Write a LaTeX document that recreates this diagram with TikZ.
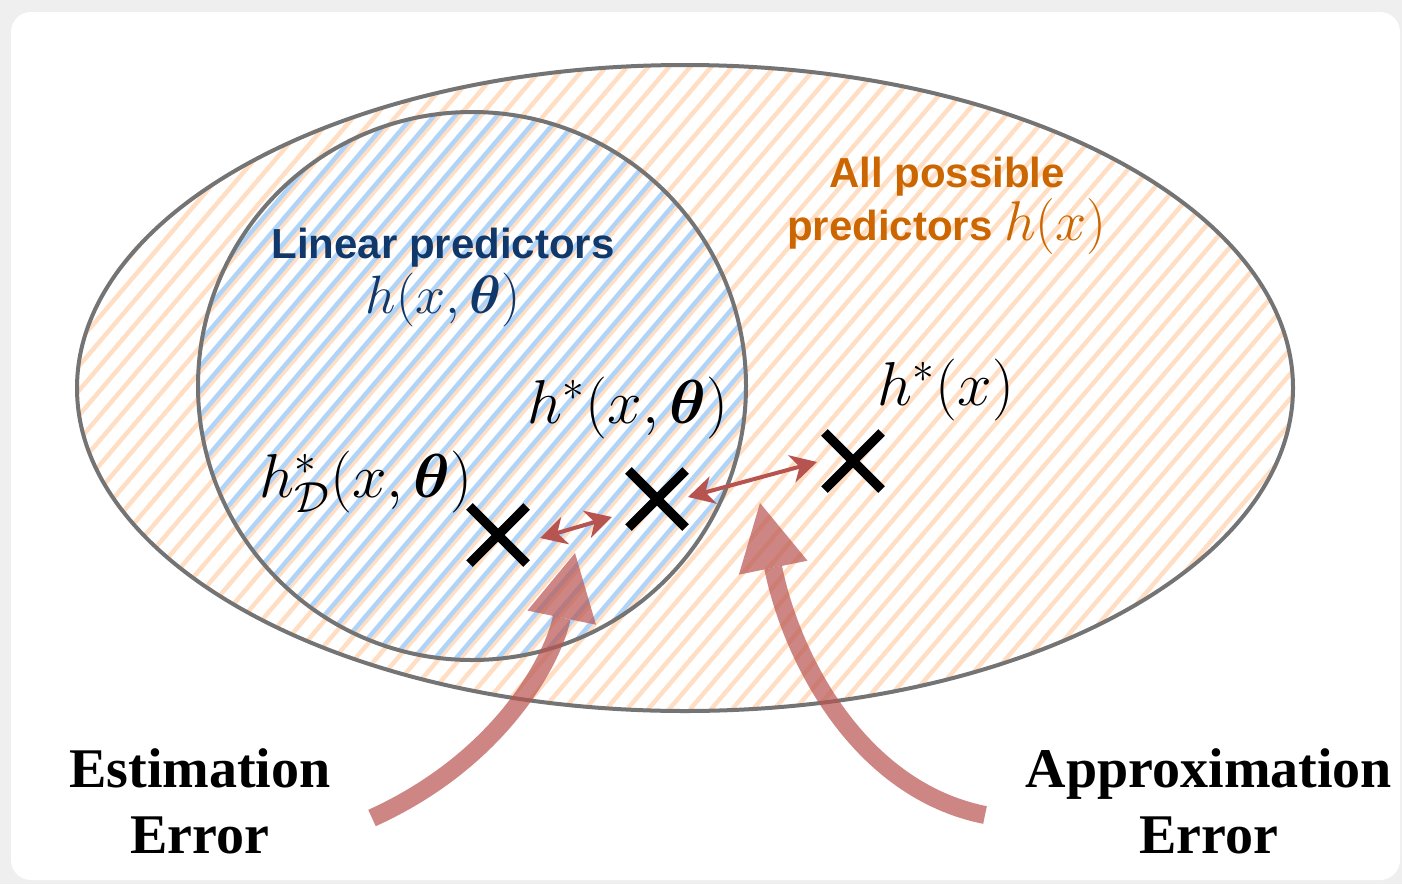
\documentclass[tikz,border=0pt]{standalone}
\usepackage{fix-cm}
\usepackage{amsmath}
\usepackage[no-math]{fontspec}
\setmainfont{Liberation Serif}
\setsansfont{Liberation Sans}
\usepackage{tikz}
\usetikzlibrary{arrows.meta,shapes.misc,calc}
\definecolor{cardgray}{HTML}{EFEFEF}
\definecolor{rimgray}{HTML}{747474}
\definecolor{peach}{HTML}{FFDEC3}
\definecolor{skyblue}{HTML}{B0D4F8}
\definecolor{navy}{HTML}{10386B}
\definecolor{amber}{HTML}{CC6600}
\definecolor{brick}{HTML}{B85450}

\begin{document}
\begin{tikzpicture}[
  x=0.5pt,y=-0.5pt,
  rim/.style={draw=rimgray,line width=2pt},
  hatchO/.style={draw=peach,line width=2.2pt},
  hatchB/.style={draw=skyblue,line width=2.2pt},
  setlbl/.style={anchor=base,inner sep=0pt,font=\sffamily\bfseries\fontsize{21}{25}\selectfont},
  setmath/.style={anchor=base,inner sep=0pt,font=\fontsize{27}{32}\selectfont},
  ptlbl/.style={anchor=base,inner sep=0pt,font=\fontsize{31}{36}\selectfont},
  errlbl/.style={anchor=base,inner sep=0pt,font=\bfseries\fontsize{28}{33}\selectfont},
  xmark/.style={cross out,draw=black,line width=4.6pt,minimum size=24pt,inner sep=0pt},
  gap/.style={{Stealth[length=13pt,width=14pt,inset=4pt]}-{Stealth[length=13pt,width=14pt,inset=4pt]},draw=brick,line width=2pt},
  bigarr/.style={-{Triangle[length=33pt,width=35pt,line width=0pt]},draw=brick,line width=9pt,opacity=0.7}
]
\fill[cardgray] (0,0) rectangle (1402,884);
\fill[white,rounded corners=10pt] (11,12) rectangle (1400,880);
\useasboundingbox (0,0) rectangle (1402,884);

\begin{scope}
  \clip (685,388) ellipse [x radius=608,y radius=323];
  \foreach \k in {0,...,110}
    \draw[hatchO] (\k*21-900,900) -- ++(850,-1000);
\end{scope}
\begin{scope}
  \clip (472,386) circle [radius=274];
  \foreach \k in {0,...,70}
    \draw[hatchB] (\k*21-589.5,900) -- ++(850,-1000);
\end{scope}
\draw[rim] (685,388) ellipse [x radius=608,y radius=323];
\draw[rim] (472,386) circle [radius=274];

\node[setlbl,text=navy] (linName) at (443,258) {Linear predictors};
\node[setmath,text=navy] (linFun) at (443,313) {$h(x,\boldsymbol{\theta})$};
\node[setlbl,text=amber] (allName) at (947,187) {All possible};
\node[setlbl,text=amber] (allFun) at (947,240) {predictors {\mdseries\fontsize{28}{32}\selectfont$h(x)$}};

\node[ptlbl] (hDname) at (366,497) {$h^*_{\mathcal{D}}(x,\boldsymbol{\theta})$};
\node[ptlbl] (hSname) at (628,423) {$h^*(x,\boldsymbol{\theta})$};
\node[ptlbl] (hXname) at (946,405) {$h^*(x)$};

\node[xmark] (hD) at (498,535) {};
\node[xmark] (hS) at (657,499) {};
\node[xmark] (hX) at (853,461) {};
\draw[gap] ($(hD)+(42,3)$) -- ($(hS)+(-45,18)$);
\draw[gap] ($(hS)+(31,-2)$) -- ($(hX)+(-36,1)$);

\coordinate (estTail) at (372,818);
\coordinate (estTip) at (575,553);
\coordinate (apxTail) at (985,815);
\coordinate (apxTip) at (760,503);
\draw[bigarr] (estTail) .. controls (500,760) and (553,660) .. (estTip);
\draw[bigarr] (apxTail) .. controls (860,790) and (792,660) .. (apxTip);

\node[errlbl] (estA) at (200,787) {Estimation};
\node[errlbl] (estB) at (200,853) {Error};
\node[errlbl] (apxA) at (1209,787) {Approximation};
\node[errlbl] (apxB) at (1209,853) {Error};
\end{tikzpicture}
\end{document}
